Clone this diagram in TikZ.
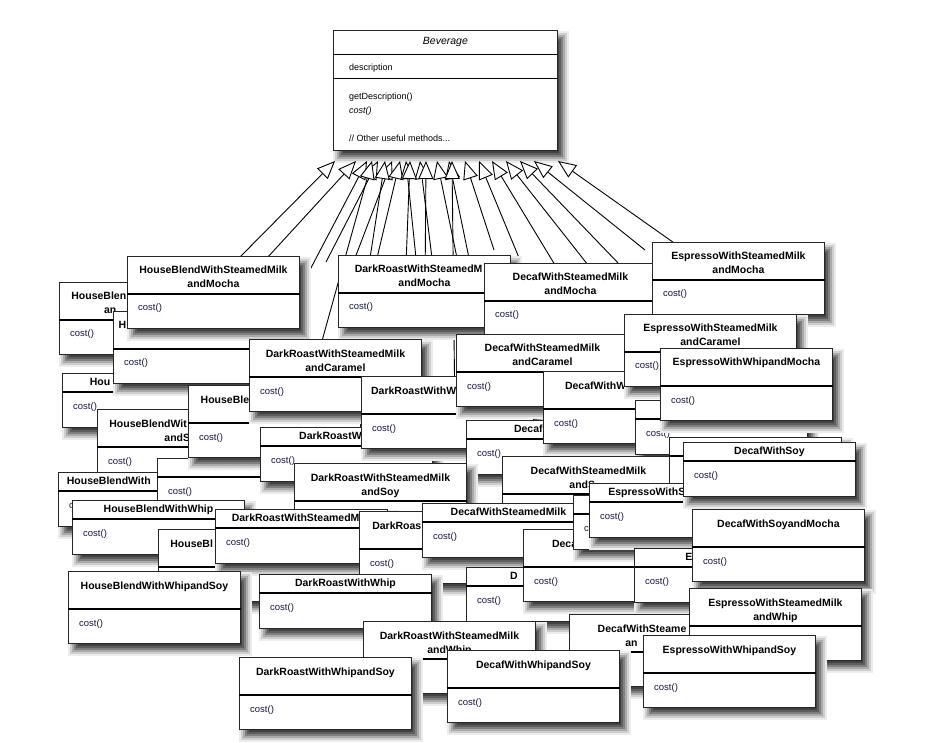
\documentclass[tikz,border=0pt]{standalone}
\usepackage{fontspec}
\setmainfont{Liberation Sans}
\usetikzlibrary{arrows.meta}
\definecolor{navytext}{RGB}{22,22,70}
\definecolor{shA}{RGB}{236,236,236}
\definecolor{shB}{RGB}{206,206,206}
\definecolor{shC}{RGB}{170,170,170}
\definecolor{shD}{RGB}{128,128,128}
\definecolor{shE}{RGB}{94,94,94}
\definecolor{shF}{RGB}{66,66,66}
\tikzset{
 klassbox/.style={draw=black!85, line width=0.9pt, fill=white, minimum width=172pt, inner sep=0pt, anchor=north west},
 sepline/.style={line width=1.6pt, black},
 ttl/.style={font=\bfseries\fontsize{10.5}{12}\selectfont, inner sep=0pt, anchor=base},
 mth/.style={font=\fontsize{9.5}{11}\selectfont, text=navytext, inner sep=0pt, anchor=base west},
 bevtxt/.style={font=\fontsize{9}{11}\selectfont, inner sep=0pt, anchor=base west},
 gen/.style={draw=black, line width=0.9pt, -{Triangle[length=18pt,width=15pt,fill=white]}},
}
% soft drop shadow from layered grey rectangles: x, y, width, height
\newcommand\softshadow[4]{%
 \foreach \e/\c in {6/shA,4/shB,2/shC,0/shD,-2/shE,-4/shF}{%
   \fill[\c] ({#1+6-\e},{#2+7-\e}) rectangle ({#1+#3+6+\e},{#2+#4+7+\e});}%
}
% class box: name, x, y, height (72 or 54), title line 1, title line 2, method
\newcommand\klass[7]{%
 \softshadow{#2}{#3}{172}{#4}%
 \node[klassbox, minimum height=#4pt] (#1) at (#2,#3) {};
 \ifnum#4>60 \def\sepy{-38pt}\def\tay{-18pt}\def\mby{-55pt}\else\def\sepy{-19pt}\def\tay{-12.5pt}\def\mby{-36pt}\fi
 \draw[sepline] ([yshift=\sepy]#1.north west) -- ([yshift=\sepy]#1.north east);
 \def\kt{#5}\ifx\kt\empty\else\node[ttl] (#1-t) at ([yshift=\tay]#1.north) {#5};\fi
 \def\kt{#6}\ifx\kt\empty\else\node[ttl] (#1-u) at ([yshift=-32pt]#1.north) {#6};\fi
 \def\kt{#7}\ifx\kt\empty\else\node[mth] (#1-m) at ([xshift=11pt,yshift=\mby]#1.north west) {#7};\fi
}
\begin{document}
\begin{tikzpicture}[x=1pt,y=-1pt]
\useasboundingbox (0,0) rectangle (932,743);
% Beverage
\softshadow{333}{30}{224}{120}
\node[klassbox, minimum width=224pt, minimum height=120pt] (bev) at (333,30) {};
\node[font=\itshape\fontsize{10.5}{12}\selectfont, inner sep=0pt, anchor=base] (bev-t) at ([yshift=-15pt]bev.north) {Beverage};
\draw[line width=1pt] ([yshift=-25pt]bev.north west) -- ([yshift=-25pt]bev.north east);
\node[bevtxt] (bev-a) at ([xshift=16pt,yshift=-41pt]bev.north west) {description};
\draw[line width=1pt] ([yshift=-49pt]bev.north west) -- ([yshift=-49pt]bev.north east);
\node[bevtxt] (bev-m1) at ([xshift=16pt,yshift=-70pt]bev.north west) {getDescription()};
\node[bevtxt, font=\itshape\fontsize{9}{11}\selectfont] (bev-m2) at ([xshift=16pt,yshift=-84pt]bev.north west) {cost()};
\node[bevtxt] (bev-m3) at ([xshift=16pt,yshift=-112pt]bev.north west) {// Other useful methods...};
% tails and tips of the generalisation connectors
\foreach \n/\tx/\ty/\hx in {a/239/258/335, b/267/258/356, c/302/285/367, d/326/262/378,
  e/355/258/392, f/377/258/400, g/416/258/406, h/432/258/420, i/457/258/437, j/469/258/449,
  k/494/250/465, l/522/265/479, m/555/265/492, n/588/265/506, o/620/265/520, p/645/250/534,
  q/677/245/558, r/300/420/372, s/345/420/385, t/400/420/410, u/424/420/426, v/455/420/452}{
  \coordinate (tail-\n) at (\tx,\ty);
  \coordinate (tip-\n) at (\hx,161);
}
\foreach \n in {a,b,c,d,e,f,g,h,i,j,k,l,m,n,o,p,q,r,s,t,u,v}{
  \draw[gen] (tail-\n) -- (tip-\n);
}
% classes, back to front
\klass{hb1}{59}{282}{72}{HouseBlen\phantom{dWithSteamedMilk}}{an\phantom{dSteamedMilk}}{cost()}
\klass{hb4}{62}{373}{54}{Hou\phantom{seBlendWithMocha}}{}{cost()}
\klass{hb3}{113}{311}{72}{H\phantom{ouseBlendWithWhipandMocha}}{}{cost()}
\klass{hb2}{127}{256}{72}{HouseBlendWithSteamedMilk}{andMocha}{cost()}
\klass{hb5}{97}{409}{72}{HouseBlendWit\phantom{hSteamedMilk}}{andS\phantom{oy}}{cost()}
\klass{hb8}{58}{472}{54}{HouseBlendWith\phantom{SoyandMocha}}{}{cost()}
\klass{hb7}{157}{458}{54}{HouseBlendW\phantom{ithSoy}}{}{cost()}
\klass{hb6}{188}{385}{72}{HouseBlen\phantom{dWithSoyandWhip}}{}{cost()}
\klass{hbw}{72}{500}{54}{HouseBlendWithWhip}{}{cost()}
\klass{hb10}{158}{529}{72}{HouseBl\phantom{endWithSteamedMilk}}{}{}
\klass{drsmm}{338}{255}{72}{DarkRoastWithSteamedM\phantom{ilk}}{andMocha}{cost()}
\klass{drsmc}{249}{339}{72}{DarkRoastWithSteamedMilk}{andCaramel}{cost()}
\klass{drs}{260}{427}{54}{DarkRoastWit\phantom{hSoy}}{}{cost()}
\klass{drwm}{361}{376}{72}{DarkRoastWithW\phantom{hipandMocha}}{}{cost()}
\klass{dcsmm}{484}{263}{72}{DecafWithSteamedMilk}{andMocha}{cost()}
\klass{dcsmc}{456}{334}{72}{DecafWithSteamedMilk}{andCaramel}{cost()}
\klass{dcw}{466}{420}{54}{Decaf\phantom{WithWhip}}{}{cost()}
\klass{dcwm}{543}{371}{72}{DecafWithWhipand\phantom{Mocha}}{}{cost()}
\klass{x1}{635}{400}{54}{}{}{cost()}
\klass{essmm}{652}{242}{72}{EspressoWithSteamedMilk}{andMocha}{cost()}
\klass{essmc}{624}{314}{72}{EspressoWithSteamedMilk}{andCaramel}{cost()}
\klass{eswm}{660}{348}{72}{EspressoWithWhipandMocha}{}{cost()}
\klass{dcsms}{502}{456}{72}{DecafWithSteamedMilk}{andS\phantom{oy}}{}
\klass{x2}{669}{437}{54}{}{}{}
\klass{drsms}{294}{463}{72}{DarkRoastWithSteamedMilk}{andSoy}{}
\klass{drsm}{215}{509}{54}{DarkRoastWithSteamedM\phantom{ilk}}{}{cost()}
\klass{drsoym}{359}{511}{72}{DarkRoas\phantom{tWithSoyandMocha}}{}{cost()}
\klass{drw}{259}{574}{54}{DarkRoastWithWhip}{}{cost()}
\klass{dcsm}{422}{503}{54}{DecafWithSteamedMilk}{}{cost()}
\klass{dcm}{466}{567}{54}{D\phantom{ecafWithMocha}}{}{cost()}
\klass{dcsw}{523}{529}{72}{Deca\phantom{fWithSoyandWhip}}{}{cost()}
\klass{x3}{573}{495}{54}{}{}{cost()}
\klass{essm}{589}{483}{54}{EspressoWithS\phantom{teamedMilk}}{}{cost()}
\klass{dcs}{683}{442}{54}{DecafWithSoy}{}{cost()}
\klass{esw}{634}{548}{54}{E\phantom{spressoWith}}{}{cost()}
\klass{dcsoym}{692}{509}{72}{DecafWithSoyandMocha}{}{cost()}
\klass{drsmw}{363}{621}{72}{DarkRoastWithSteamedMilk}{andWhip}{}
\klass{dcsmcar}{569}{614}{72}{DecafWithSteame\phantom{dMilk}}{an\phantom{dCaramel}}{}
\klass{hbws}{68}{571}{72}{HouseBlendWithWhipandSoy}{}{cost()}
\klass{drws}{239}{657}{72}{DarkRoastWithWhipandSoy}{}{cost()}
\klass{dcws}{447}{650}{72}{DecafWithWhipandSoy}{}{cost()}
\klass{essmw}{689}{588}{72}{EspressoWithSteamedMilk}{andWhip}{cost()}
\klass{esws}{643}{635}{72}{EspressoWithWhipandSoy}{}{cost()}
\end{tikzpicture}
\end{document}
